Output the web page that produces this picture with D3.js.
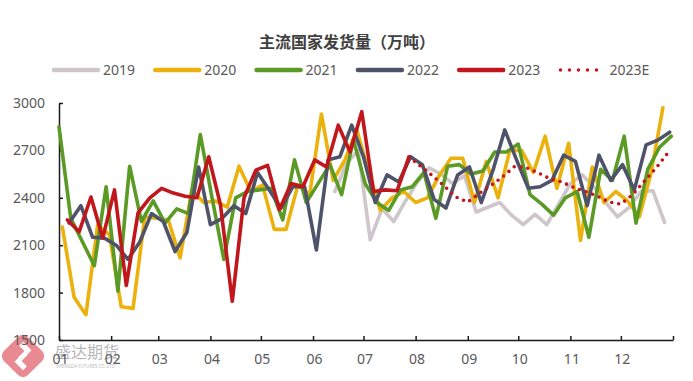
<!DOCTYPE html>
<html><head><meta charset="utf-8">
<script src="https://cdn.jsdelivr.net/npm/d3@7"></script>
<style>html,body{margin:0;padding:0;background:#fff;overflow:hidden}</style>
</head><body><svg id="c" width="693" height="381"></svg>
<script>
const chartTitle = "主流国家发货量（万吨）";
const monthLabels = ["01","02","03","04","05","06","07","08","09","10","11","12"];
const yTickValues = [1500, 1800, 2100, 2400, 2700, 3000];
const seriesNames = ["2019", "2020", "2021", "2022", "2023", "2023E"];
const seriesColors = ["#cec6cb", "#ebb10d", "#5a9a25", "#4f5369", "#c0161c", "#c0161c"];
const firstDates = ["2019-06-14", "2020-01-03", "2021-01-01", "2022-01-07", "2023-01-06", "2023-07-28"];

const v2019 = [2440,2620,2700,2135,2330,2250,2380,2500,2590,2550,2490,2540,2310,2340,2370,2290,2230,2295,2230,2360,2490,2545,2470,2370,2280,2340,2440,2445,2245];
const v2020 = [2215,1770,1660,2230,2165,1710,1700,2280,2270,2260,2020,2450,2370,2380,2340,2600,2440,2480,2200,2200,2480,2420,2930,2510,2640,2830,2570,2320,2400,2440,2370,2400,2540,2650,2650,2370,2630,2400,2700,2700,2560,2790,2460,2745,2130,2595,2370,2440,2380,2280,2560,2970];
const v2021 = [2850,2270,2120,1970,2470,1810,2600,2250,2380,2240,2330,2300,2800,2400,2010,2400,2440,2450,2460,2260,2640,2370,2490,2610,2420,2770,2490,2370,2320,2450,2470,2560,2270,2600,2610,2550,2570,2690,2690,2740,2420,2360,2290,2400,2440,2150,2580,2510,2790,2240,2580,2720,2790];
const v2022 = [2240,2350,2150,2145,2100,2010,2120,2300,2250,2060,2180,2595,2230,2270,2350,2300,2560,2450,2335,2470,2470,2070,2640,2660,2860,2660,2370,2545,2500,2660,2610,2390,2335,2545,2595,2370,2575,2830,2640,2460,2470,2510,2670,2630,2350,2670,2510,2610,2450,2735,2765,2815];
const v2023 = [2260,2185,2405,2145,2450,1845,2305,2400,2460,2430,2410,2400,2660,2355,1745,2400,2575,2605,2325,2490,2470,2640,2595,2860,2690,2945,2440,2450,2445,2658];
const v2023E = [2658,2600,2540,2475,2405,2373,2430,2480,2535,2600,2590,2557,2520,2500,2465,2440,2410,2373,2360,2420,2505,2590,2685];
const seriesValues = [v2019, v2020, v2021, v2022, v2023, v2023E];

const svg = d3.select("#c");
const parse = d3.timeParse("%Y-%m-%d");
const refStart = new Date(2001, 0, 1), refEnd = new Date(2002, 0, 1);
function toRef(d) {
  const doy = d3.timeDay.count(d3.timeYear(d), d);
  return d3.timeDay.offset(refStart, doy);
}
const x = d3.scaleTime().domain([refStart, refEnd]).range([59, 673]);
const y = d3.scaleLinear().domain([1500, 3000]).range([340, 103]);

// title
svg.append("text").attr("x", 347).attr("y", 48).attr("text-anchor", "middle")
  .attr("font-family", "'Noto Sans CJK SC', sans-serif").attr("font-weight", "bold")
  .attr("font-size", 16).attr("fill", "#404040").text(chartTitle);

// legend
const lg = svg.append("g");
seriesNames.forEach((n, i) => {
  const lx = 52 + i * 101.3;
  const dotted = n === "2023E";
  lg.append("line").attr("x1", lx + 2).attr("x2", lx + 46).attr("y1", 70).attr("y2", 70)
    .attr("stroke", seriesColors[i]).attr("stroke-width", dotted ? 3.5 : 4.5)
    .attr("stroke-linecap", "round").attr("stroke-dasharray", dotted ? "0 9" : null);
  lg.append("text").attr("x", lx + 51).attr("y", 75).attr("font-family", "'Noto Sans', sans-serif")
    .attr("font-size", 14).attr("fill", "#595959").text(n);
});

// watermark
const wm = svg.append("g").attr("opacity", 0.75);
const logo = wm.append("g").attr("transform", "translate(23,356) rotate(45)");
logo.append("rect").attr("x", -17).attr("y", -17).attr("width", 34).attr("height", 34).attr("rx", 7).attr("fill", "#e2646f");
logo.append("rect").attr("x", -10).attr("y", -10).attr("width", 12).attr("height", 5.5).attr("fill", "#fff");
logo.append("rect").attr("x", -2).attr("y", 4.5).attr("width", 12).attr("height", 5.5).attr("fill", "#fff");
logo.append("rect").attr("x", -2.5).attr("y", -4.5).attr("width", 5).attr("height", 9).attr("fill", "#fff");
wm.append("text").attr("x", 55).attr("y", 358).attr("font-family", "'Noto Sans CJK SC', sans-serif")
  .attr("font-size", 16).attr("fill", "#a0a0a0").text("盛达期货");
wm.append("text").attr("x", 56).attr("y", 368).attr("font-family", "'Noto Sans', sans-serif")
  .attr("font-size", 4.5).attr("fill", "#a5a5a5").text("SHENGDA FUTURES CO.,LTD");

// axes
const monthTicks = d3.timeMonth.range(refStart, d3.timeDay.offset(refEnd, 1));
const xAxis = d3.axisBottom(x).tickValues(monthTicks).tickSizeInner(-4).tickSizeOuter(0).tickPadding(14)
  .tickFormat((d, i) => i < monthLabels.length ? monthLabels[i] : "");
const gx = svg.append("g").attr("transform", "translate(0,340)").call(xAxis);
const yAxis = d3.axisLeft(y).tickValues(yTickValues).tickSizeInner(-4).tickSizeOuter(0).tickPadding(14)
  .tickFormat(d3.format("d"));
const gy = svg.append("g").attr("transform", "translate(59,0)").call(yAxis);
[gx, gy].forEach(g => {
  g.selectAll("path,line").attr("stroke", "#1a1a1a").attr("stroke-width", 1.5);
  g.selectAll("text").attr("font-family", "'Noto Sans', sans-serif").attr("font-size", 14).attr("fill", "#595959");
});
gx.selectAll("text").attr("dx", 1);

// lines
const line = d3.line().x(d => x(d.date)).y(d => y(d.value));
seriesNames.forEach((n, i) => {
  const start = parse(firstDates[i]);
  const data = seriesValues[i].map((v, k) => ({ date: toRef(d3.timeDay.offset(start, 7 * k)), value: v }));
  const dotted = n === "2023E";
  svg.append("path").datum(data).attr("d", line).attr("fill", "none")
    .attr("stroke", seriesColors[i]).attr("stroke-width", 3.6)
    .attr("stroke-linejoin", "round").attr("stroke-linecap", "round")
    .attr("stroke-dasharray", dotted ? "0 7" : null);
});
</script>
</body></html>
